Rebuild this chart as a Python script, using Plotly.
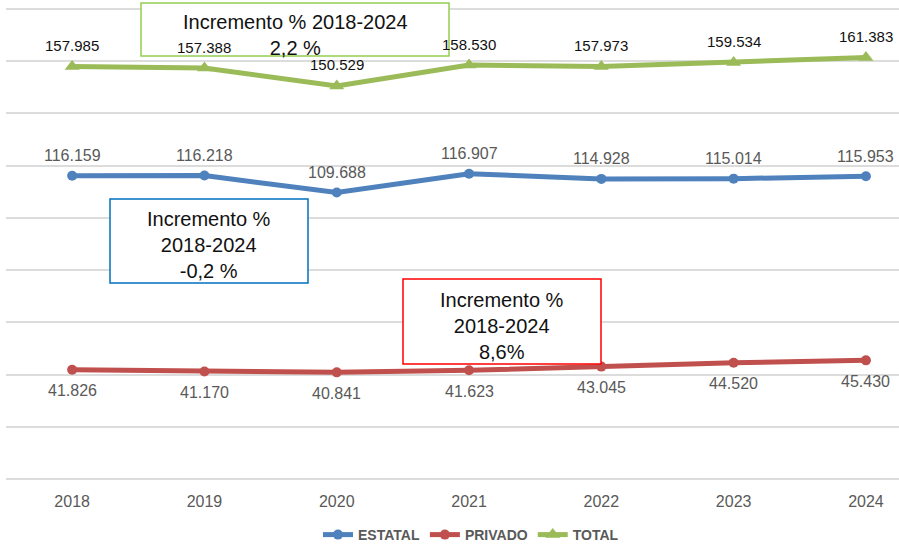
import plotly.graph_objects as go

years = ["2018", "2019", "2020", "2021", "2022", "2023", "2024"]
estatal = [116159, 116218, 109688, 116907, 114928, 115014, 115953]
privado = [41826, 41170, 40841, 41623, 43045, 44520, 45430]
total = [157985, 157388, 150529, 158530, 157973, 159534, 161383]

estatal_lbl = ["116.159", "116.218", "109.688", "116.907", "114.928", "115.014", "115.953"]
privado_lbl = ["41.826", "41.170", "40.841", "41.623", "43.045", "44.520", "45.430"]
total_lbl = ["157.985", "157.388", "150.529", "158.530", "157.973", "159.534", "161.383"]

box_texts = {
    "total": "Incremento % 2018-2024<br>2,2 %",
    "estatal": "Incremento %<br>2018-2024<br>-0,2 %",
    "privado": "Incremento %<br>2018-2024<br>8,6%",
}

BLUE = "#4F81BD"
RED = "#C0504D"
GREEN = "#9BBB59"
GRAY = "#595959"
GRID = "#dcdcdc"
FONT = "Liberation Sans"

W, H = 899, 546
ML, MR, MT, MB = 6, 0, 4, 67
PW = W - ML - MR
PH = H - MT - MB
YMAX = 181900
YTOP_GRID = 180000


def px(x):
    return (x - ML) / PW


def py(y):
    return (H - MB - y) / PH


fig = go.Figure()
fig.add_trace(go.Scatter(x=years, y=estatal, name="ESTATAL", mode="lines+markers",
                         line=dict(color=BLUE, width=5), marker=dict(symbol="circle", size=10, color=BLUE)))
fig.add_trace(go.Scatter(x=years, y=privado, name="PRIVADO", mode="lines+markers",
                         line=dict(color=RED, width=5), marker=dict(symbol="circle", size=10, color=RED)))
fig.add_trace(go.Scatter(x=years, y=total, name="TOTAL", mode="lines+markers",
                         line=dict(color=GREEN, width=5), marker=dict(symbol="triangle-up", size=13, color=GREEN)))

shapes = [dict(type="line", xref="paper", yref="y", x0=0, x1=1, y0=YTOP_GRID, y1=YTOP_GRID,
               line=dict(color=GRID, width=2), layer="above")]
anns = []


def box(x0, y0, x1, y1, tyc, text, color):
    shapes.append(dict(type="rect", xref="paper", yref="paper", x0=px(x0), x1=px(x1),
                       y0=py(y1), y1=py(y0), line=dict(color=color, width=1.5),
                       fillcolor="white", layer="above"))
    anns.append(dict(xref="paper", yref="paper", x=px((x0 + x1) / 2), y=py(tyc),
                     xanchor="center", yanchor="middle", showarrow=False, text=text,
                     align="center", font=dict(family=FONT, size=20, color="#111111")))


box(141, 3, 449, 56, 34.5, box_texts["total"], "#92D050")
box(110, 199, 308, 283, 245.5, box_texts["estatal"], "#0070C0")
box(403, 279, 601, 364, 325.5, box_texts["privado"], "#FF0000")

for i, yr in enumerate(years):
    anns.append(dict(x=i, y=total[i], text=total_lbl[i], showarrow=False, yshift=21,
                     font=dict(family=FONT, size=15, color="#111111")))
    anns.append(dict(x=i, y=estatal[i], text=estatal_lbl[i], showarrow=False, yshift=20,
                     font=dict(family=FONT, size=16, color=GRAY)))
    anns.append(dict(x=i, y=privado[i], text=privado_lbl[i], showarrow=False, yshift=-21,
                     font=dict(family=FONT, size=16, color=GRAY)))

fig.update_layout(
    width=W, height=H,
    margin=dict(l=ML, r=MR, t=MT, b=MB, autoexpand=False),
    paper_bgcolor="white", plot_bgcolor="white",
    annotations=anns, shapes=shapes,
    showlegend=True,
    legend=dict(orientation="h", x=px(471), xanchor="center", y=py(535), yanchor="middle",
                font=dict(family=FONT, size=14, color=GRAY, weight="bold"),
                bgcolor="rgba(0,0,0,0)", itemwidth=30),
    xaxis=dict(type="category", range=[-0.5, 6.25], showgrid=False, zeroline=False,
               showline=False, ticks="", ticklabelstandoff=11,
               tickfont=dict(family=FONT, size=16, color=GRAY)),
    yaxis=dict(range=[0, YMAX], dtick=20000, showgrid=True, gridcolor=GRID,
               gridwidth=2, zeroline=True, zerolinecolor=GRID, zerolinewidth=2,
               showticklabels=False, ticks=""),
)

fig.write_html("out.html", config={"displayModeBar": False},
               post_script="document.body.style.margin='0';document.body.style.padding='0';")
